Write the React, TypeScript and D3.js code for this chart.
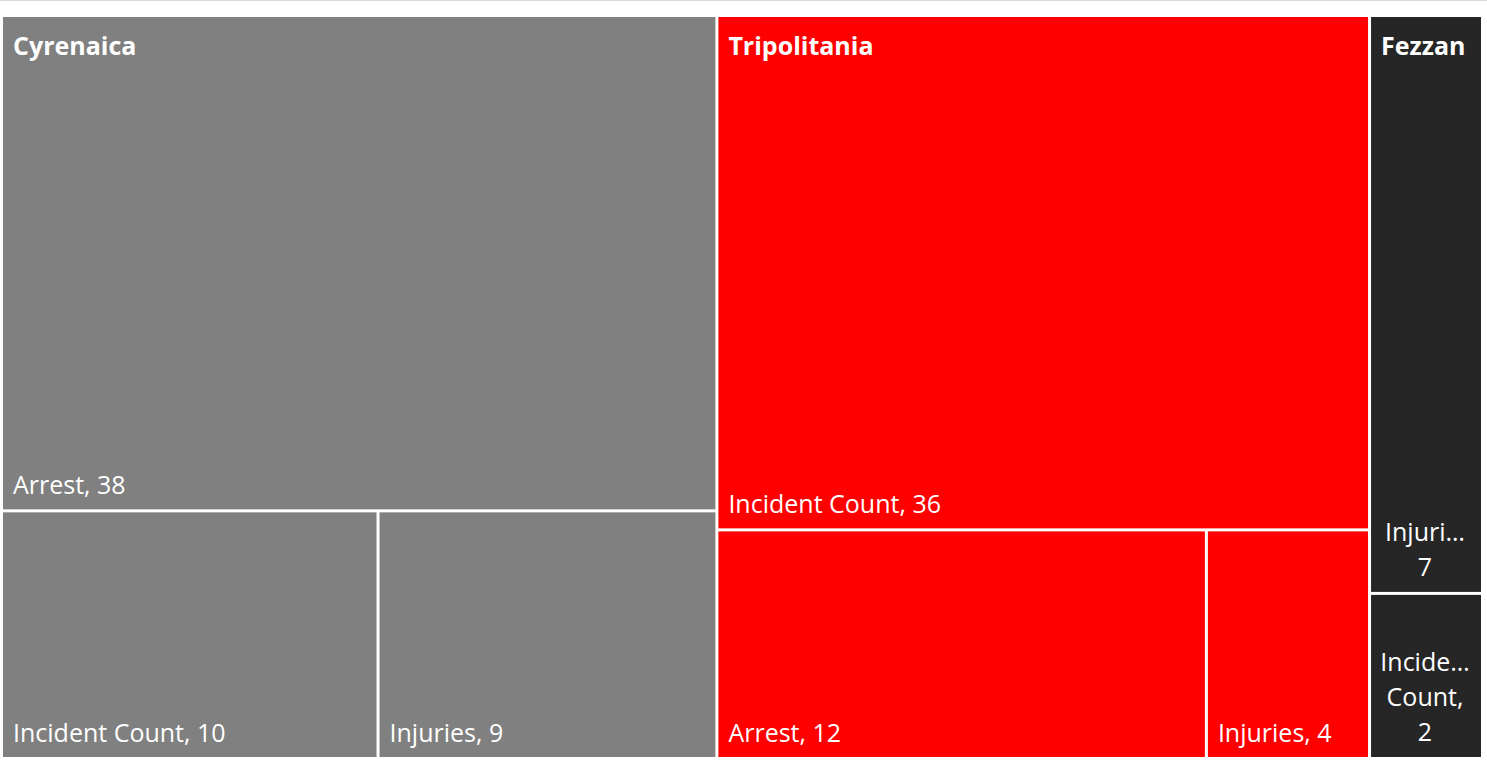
import React, { useEffect, useRef } from 'react';
import * as d3 from 'd3';

const WIDTH = 1487;
const HEIGHT = 764;

const regions = ['Cyrenaica', 'Tripolitania', 'Fezzan'];
const regionColors = ['#808080', '#ff0000', '#262626'];

const cyrenaicaMetrics = ['Arrest', 'Incident Count', 'Injuries'];
const cyrenaicaValues = [38, 10, 9];
const tripolitaniaMetrics = ['Incident Count', 'Arrest', 'Injuries'];
const tripolitaniaValues = [36, 12, 4];
const fezzanMetrics = ['Injuries', 'Incident Count'];
const fezzanValues = [7, 2];

const metricsByRegion = [cyrenaicaMetrics, tripolitaniaMetrics, fezzanMetrics];
const valuesByRegion = [cyrenaicaValues, tripolitaniaValues, fezzanValues];

const FONT = '"Open Sans", "Noto Sans", sans-serif';

export default function App() {
  const ref = useRef<SVGSVGElement | null>(null);

  useEffect(() => {
    const svg = d3.select(ref.current);
    svg.selectAll('*').remove();

    const data = {
      name: 'root',
      children: regions.map((r, i) => ({
        name: r,
        color: regionColors[i],
        children: metricsByRegion[i].map((m, j) => ({ name: m, value: valuesByRegion[i][j] })),
      })),
    };

    const root = d3
      .hierarchy<any>(data)
      .sum((d: any) => d.value || 0)
      .sort((a, b) => (b.value || 0) - (a.value || 0));

    (root.children || []).sort((a, b) => regions.indexOf(a.data.name) - regions.indexOf(b.data.name));

    const tile = (node: any, x0: number, y0: number, x1: number, y1: number) => {
      if (node.depth === 0) d3.treemapDice(node, x0, y0, x1, y1);
      else d3.treemapSquarify(node, x0, y0, x1, y1);
    };

    d3.treemap<any>()
      .tile(tile as any)
      .size([1478, 740])
      .paddingInner(3)(root);

    svg
      .append('line')
      .attr('x1', 0)
      .attr('x2', WIDTH)
      .attr('y1', 0.5)
      .attr('y2', 0.5)
      .attr('stroke', '#d9d9d9')
      .attr('stroke-width', 1);

    const g = svg.append('g').attr('transform', 'translate(3,17)');

    const leaves = root.leaves();
    leaves.forEach((leaf: any) => {
      const color = leaf.parent.data.color;
      g.append('rect')
        .attr('x', leaf.x0)
        .attr('y', leaf.y0)
        .attr('width', leaf.x1 - leaf.x0)
        .attr('height', leaf.y1 - leaf.y0)
        .attr('fill', color);
    });

    const fontSize = 25;
    const lineH = 35;

    leaves.forEach((leaf: any) => {
      const w = leaf.x1 - leaf.x0;
      const label = `${leaf.data.name}, ${leaf.value}`;
      const avail = w - 18;
      const t = g
        .append('text')
        .attr('fill', '#ffffff')
        .attr('font-family', FONT)
        .attr('font-size', fontSize)
        .text(label);
      const full = (t.node() as SVGTextElement).getComputedTextLength();
      if (full <= avail) {
        t.attr('x', leaf.x0 + 10).attr('y', leaf.y1 - 15);
      } else {
        t.text(null);
        const words = label.split(' ');
        const lines: string[] = [];
        const measure = g
          .append('text')
          .attr('font-family', FONT)
          .attr('font-size', fontSize);
        const len = (s: string) => {
          measure.text(s);
          return (measure.node() as SVGTextElement).getComputedTextLength();
        };
        let cur = '';
        words.forEach((wd) => {
          const cand = cur ? cur + ' ' + wd : wd;
          if (len(cand) <= avail) {
            cur = cand;
          } else {
            if (cur) lines.push(cur);
            let word = wd;
            if (len(word) > avail) {
              let k = word.length;
              while (k > 1 && len(word.slice(0, k) + '…') > avail) k--;
              word = word.slice(0, k) + '…';
            }
            cur = word;
          }
        });
        if (cur) lines.push(cur);
        measure.remove();
        const cx = (leaf.x0 + leaf.x1) / 2 - 1;
        const lastY = leaf.y1 - 16;
        t.attr('text-anchor', 'middle');
        lines.forEach((ln, i) => {
          t.append('tspan')
            .attr('x', cx)
            .attr('y', lastY - (lines.length - 1 - i) * lineH)
            .text(ln);
        });
      }
    });

    (root.children || []).forEach((p: any) => {
      g.append('text')
        .attr('x', p.x0 + 10)
        .attr('y', p.y0 + 38)
        .attr('fill', '#ffffff')
        .attr('font-family', FONT)
        .attr('font-weight', 'bold')
        .attr('font-size', fontSize)
        .text(p.data.name);
    });
  }, []);

  return (
    <div style={{ position: 'absolute', left: 0, top: 0 }}>
      <svg ref={ref} width={WIDTH} height={HEIGHT} style={{ display: 'block', background: '#ffffff' }} />
    </div>
  );
}
